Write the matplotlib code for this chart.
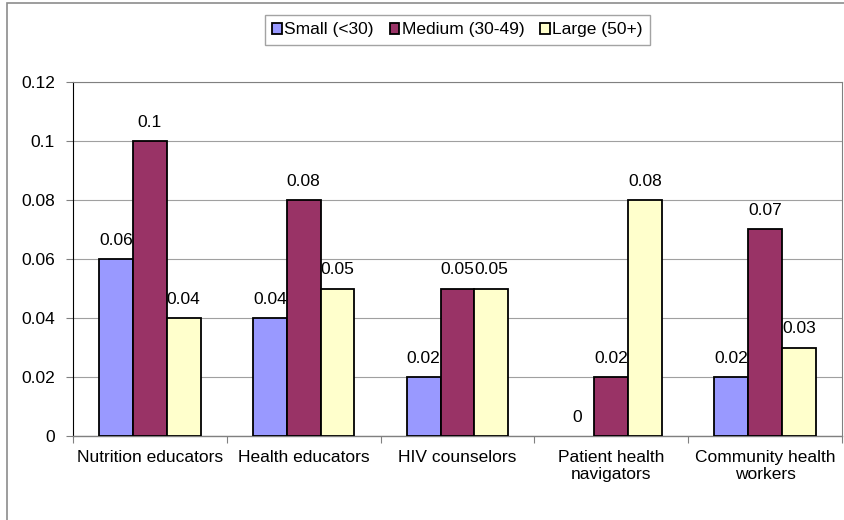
import matplotlib
matplotlib.use('Agg')
import matplotlib.pyplot as plt
from matplotlib.patches import Rectangle
import numpy as np

plt.rcParams['font.family'] = ['Liberation Sans', 'DejaVu Sans']

categories = ['Nutrition educators', 'Health educators', 'HIV counselors',
              'Patient health\nnavigators', 'Community health\nworkers']
series_names = ['Small (<30)', 'Medium (30-49)', 'Large (50+)']
small = [0.06, 0.04, 0.02, 0, 0.02]
medium = [0.1, 0.08, 0.05, 0.02, 0.07]
large = [0.04, 0.05, 0.05, 0.08, 0.03]
yticks = [0, 0.02, 0.04, 0.06, 0.08, 0.1, 0.12]
ytick_labels = ['0', '0.02', '0.04', '0.06', '0.08', '0.1', '0.12']

colors = ['#9999FF', '#993366', '#FFFFCC']
fs = 12.5

fig = plt.figure(figsize=(8.45, 5.2), dpi=100)
ax = fig.add_axes([73 / 845, 84 / 520, 769 / 845, 354 / 520])

# outer chart frame
fig.patches.append(Rectangle((7 / 845, -0.1), 1.2, (517 / 520) + 0.1,
                             transform=fig.transFigure, fill=False,
                             edgecolor='#8c8c8c', linewidth=1.2))

x = np.arange(len(categories))
w = 0.22
for i, (vals, name) in enumerate(zip([small, medium, large], series_names)):
    b = ax.bar(x + (i - 1) * w, vals, w, color=colors[i], edgecolor='black',
               linewidth=1.3, label=name, zorder=3)
    for p, v in zip(b.patches, vals):
        if v == 0:
            p.set_linewidth(0)
    # value labels sit behind the bars
    for xi, v in zip(x + (i - 1) * w, vals):
        ax.annotate('%g' % v, (xi, v), xytext=(0, 8), textcoords='offset points',
                    ha='center', va='bottom', fontsize=fs, zorder=2)

ax.set_xlim(-0.5, len(categories) - 0.5)
ax.set_ylim(0, 0.12)
ax.set_yticks(yticks)
ax.set_yticklabels(ytick_labels, fontsize=fs)
ax.set_xticks(np.arange(len(categories) + 1) - 0.5, minor=False)
ax.set_xticklabels([])
ax.set_xticks(x, minor=True)
ax.set_xticklabels(categories, minor=True, fontsize=fs)
ax.tick_params(axis='x', which='minor', length=0, pad=10)
ax.tick_params(axis='x', which='major', length=5, color='#808080', direction='out')
ax.tick_params(axis='y', length=5, color='#808080', direction='out', pad=8)

ax.yaxis.grid(True, color='#a0a0a0', linewidth=0.8, zorder=0)
ax.set_axisbelow(True)
for s in ['top', 'right', 'bottom']:
    ax.spines[s].set_color('#808080')
ax.spines['left'].set_color('black')
ax.spines['bottom'].set_linewidth(1.0)

leg = ax.legend(loc='center', bbox_to_anchor=(0.5, 1.147), ncol=3, fontsize=fs,
                frameon=True, fancybox=False, edgecolor='#8c8c8c',
                handlelength=0.55, handleheight=0.55, handletextpad=0.15,
                columnspacing=0.9, borderpad=0.45)
leg.get_frame().set_linewidth(1.0)

fig.savefig('out.png', dpi=100)
